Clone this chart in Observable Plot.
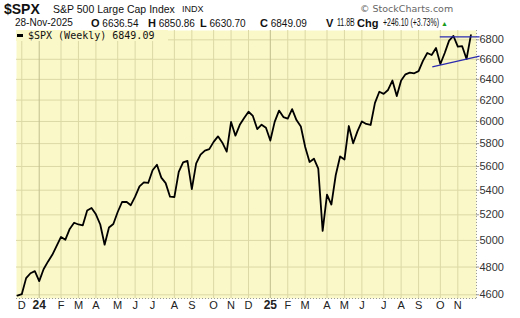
<!DOCTYPE html>
<html>
<head>
<meta charset="utf-8">
<script src="https://cdn.jsdelivr.net/npm/d3@7"></script>
<script src="https://cdn.jsdelivr.net/npm/@observablehq/plot@0.6"></script>
<style>
  html, body { margin: 0; padding: 0; background: #fff; }
  #wrap { position: relative; width: 520px; height: 318px; font-family: "Liberation Sans", Arial, sans-serif; color: #111; }
  #head { position: relative; width: 520px; height: 30px; }
  .a { position: absolute; white-space: nowrap; line-height: 1; }
  .sx { position: absolute; white-space: nowrap; line-height: 1; transform-origin: 0 0; }
  #legend { position: absolute; left: 16px; top: 30px; width: 152px; height: 11px; background: #faf7c8; }
</style>
</head>
<body>
<div id="wrap">
  <div id="head">
    <span class="a" style="left:4px;top:2px;font-size:14px;font-weight:bold;">$SPX</span>
    <span class="a" style="left:53px;top:3.5px;font-size:10.5px;">S&amp;P 500 Large Cap Index</span>
    <span class="a" style="left:182px;top:5px;font-size:9px;">INDX</span>
    <span class="a" style="left:360px;top:4px;font-size:9.5px;color:#666;font-family:'DejaVu Sans',sans-serif;">© StockCharts.com</span>
    <span class="a" style="left:15px;top:18px;font-size:10px;">28-Nov-2025</span>
    <span class="a" style="left:91px;top:18px;font-size:10px;"><b style="font-size:11px">O</b> 6636.54</span>
    <span class="a" style="left:148px;top:18px;font-size:10px;"><b style="font-size:11px">H</b> 6850.86</span>
    <span class="a" style="left:200px;top:18px;font-size:10px;"><b style="font-size:11px">L</b> 6630.70</span>
    <span class="a" style="left:260px;top:18px;font-size:10px;"><b style="font-size:11px">C</b> 6849.09</span>
    <span class="a" style="left:326px;top:18px;font-size:11px;font-weight:bold;">V</span>
    <span class="sx" style="left:336.5px;top:18px;font-size:10px;transform:scaleX(0.7);">11.8B</span>
    <span class="a" style="left:357px;top:18px;font-size:11px;font-weight:bold;">Chg</span>
    <span class="sx" style="left:383px;top:18px;font-size:10px;transform:scaleX(0.7);">+246.10 (+3.73%)</span>
    <span class="a" style="left:441px;top:19.5px;font-size:7px;color:#1a9a1a;">▲</span>
  </div>
  <div id="chart"></div>
  <div id="legend">
    <span class="a" style="left:1px;top:4px;width:6px;height:3px;background:#000;"></span>
    <span class="a" style="left:12px;top:1px;font-size:10px;font-family:'DejaVu Sans Mono',monospace;">$SPX (Weekly) 6849.09</span>
  </div>
</div>
<script>
// Weekly closes of $SPX, weeks beginning Mon 2023-11-27 ... Mon 2025-11-24
const weeklyClose = [
  4594.63, 4604.37, 4719.19, 4754.63, 4769.83,
  4697.24, 4783.83, 4839.81, 4890.97,
  4958.61, 5026.61, 5005.57, 5088.80,
  5137.08, 5123.69, 5117.09, 5234.18, 5254.35,
  5204.34, 5123.41, 4967.23, 5099.96,
  5127.79, 5222.68, 5303.27, 5304.72, 5277.51,
  5346.99, 5431.60, 5464.62, 5460.48,
  5567.19, 5615.35, 5505.00, 5459.10,
  5346.56, 5344.16, 5554.25, 5634.61, 5648.40,
  5408.42, 5626.02, 5702.55, 5738.17,
  5751.07, 5815.03, 5864.67, 5808.12,
  5728.80, 5995.54, 5870.62, 5969.34, 6032.38,
  6090.27, 6051.09, 5930.85, 5970.84,
  5942.47, 5827.04, 5996.66, 6101.24, 6040.53,
  6025.99, 6114.63, 6013.13, 5954.50,
  5770.20, 5638.94, 5667.56, 5580.94,
  5074.08, 5363.36, 5282.70, 5525.21,
  5686.67, 5659.91, 5958.38, 5802.82, 5911.69,
  6000.36, 5976.97, 5967.84, 6173.07,
  6279.35, 6259.75, 6296.79, 6388.64,
  6238.01, 6389.45, 6449.80, 6466.91, 6460.26,
  6481.50, 6584.29, 6664.36, 6643.70,
  6715.79, 6552.51, 6664.01, 6791.69, 6840.20,
  6728.80, 6734.11, 6602.99, 6849.09
];
const firstWeek = "2023-11-27";
const lastWeek = "2025-11-24";
const yTicks = [4600, 4800, 5000, 5200, 5400, 5600, 5800, 6000, 6200, 6400, 6600, 6800];
const monthLetters = ["J","F","M","A","M","J","J","A","S","O","N","D"];
const trendLines = [
  {x1: "2025-09-23", y1: 6525, x2: "2025-12-08", y2: 6632},
  {x1: "2025-10-05", y1: 6830, x2: "2025-12-08", y2: 6830}
];

const weeks = d3.utcMonday.range(new Date(firstWeek), d3.utcDay.offset(new Date(lastWeek), 1));
const data = weeks.map((d, i) => ({date: d, close: weeklyClose[i]}));
const monthStarts = weeks.filter((d, i) => i > 0 && d.getUTCMonth() !== weeks[i - 1].getUTCMonth());
const yearStarts = monthStarts.filter(d => d.getUTCMonth() === 0);
const otherMonths = monthStarts.filter(d => d.getUTCMonth() !== 0);
const links = trendLines.map(t => ({x1: new Date(t.x1), y1: t.y1, x2: new Date(t.x2), y2: t.y2}));

const xDomain = [new Date("2023-11-25T13:00:00Z"), new Date("2025-12-03T00:00:00Z")];
const yDomain = [4574, 6898];
const bg = "#faf7c8", grid = "#dcd9a6", yearGrid = "#c2bf8e";

const chart = Plot.plot({
  width: 520, height: 288,
  marginTop: 0, marginBottom: 20, marginLeft: 16, marginRight: 44,
  style: {background: "white", fontFamily: "Liberation Sans, Arial, sans-serif", fontSize: "11px", color: "#333", overflow: "visible"},
  x: {type: "utc", domain: xDomain, axis: null},
  y: {type: "log", domain: yDomain, axis: null},
  marks: [
    Plot.frame({fill: bg, stroke: null}),
    Plot.ruleY(yTicks, {stroke: grid, strokeWidth: 1}),
    Plot.ruleX(otherMonths, {stroke: grid, strokeWidth: 1}),
    Plot.ruleX(yearStarts, {stroke: yearGrid, strokeWidth: 1}),
    Plot.ruleY([yDomain[0]], {stroke: "#999", strokeDasharray: "1,2"}),
    Plot.ruleX([xDomain[1]], {stroke: "#999", strokeDasharray: "1,2"}),
    Plot.ruleY(yTicks, {x1: xDomain[1], x2: d3.utcDay.offset(xDomain[1], 5), stroke: "#999"}),
    Plot.text(yTicks, {y: d => d, text: d => String(d), frameAnchor: "right", textAnchor: "start", dx: 3, fontSize: 11, fill: "#333"}),
    Plot.text(otherMonths, {x: d => d, text: d => monthLetters[d.getUTCMonth()], frameAnchor: "bottom", dy: 10, fontSize: 11, fill: "#222"}),
    Plot.text(yearStarts, {x: d => d, text: d => String(d.getUTCFullYear()).slice(2), frameAnchor: "bottom", dy: 10, fontSize: 12, fontWeight: "bold", fill: "#222"}),
    Plot.line(data, {x: "date", y: "close", stroke: "#000", strokeWidth: 1.8, strokeLinejoin: "round"}),
    Plot.link(links, {x1: "x1", y1: "y1", x2: "x2", y2: "y2", stroke: "#2b2bb0", strokeWidth: 1.3})
  ]
});
document.getElementById("chart").appendChild(chart);
</script>
</body>
</html>
